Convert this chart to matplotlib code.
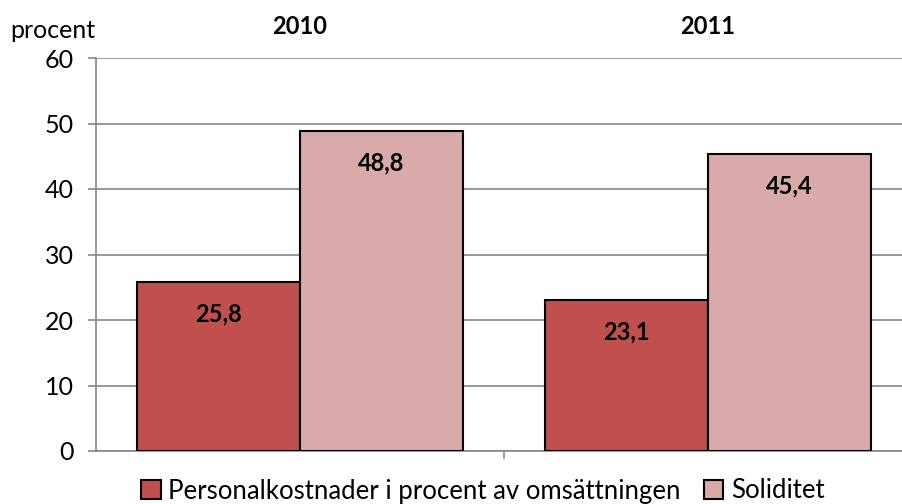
import matplotlib.pyplot as plt
import numpy as np

years = ["2010", "2011"]
personal = [25.8, 23.1]
soliditet = [48.8, 45.4]
series_names = ["Personalkostnader i procent av omsättningen", "Soliditet"]
colors = ["#C0504D", "#D9AAAA"]
yticks = [0, 10, 20, 30, 40, 50, 60]

plt.rcParams["font.family"] = ["Lato", "DejaVu Sans"]

W, H = 902, 504
fig = plt.figure(figsize=(W / 100, H / 100), dpi=100)
ax = fig.add_axes([96 / W, 1 - 451 / H, (912 - 96) / W, (451 - 58) / H])

x = np.arange(len(years))
bw = 0.4
b1 = ax.bar(x - bw / 2, personal, bw, color=colors[0], edgecolor="black", linewidth=1.5,
            label=series_names[0], zorder=3)
b2 = ax.bar(x + bw / 2, soliditet, bw, color=colors[1], edgecolor="black", linewidth=1.5,
            label=series_names[1], zorder=3)

for bars, vals in ((b1, personal), (b2, soliditet)):
    for b, v in zip(bars, vals):
        ax.annotate(f"{v:.1f}".replace(".", ","), (b.get_x() + b.get_width() / 2, v),
                    xytext=(0, -23), textcoords="offset points", ha="center", va="center",
                    fontsize=17, fontweight="bold", zorder=4)

ax.set_xlim(-0.5, 1.5)
ax.set_ylim(0, 60)
ax.set_yticks(yticks)
ax.yaxis.grid(True, color="#868686", linewidth=1.2, zorder=0)
ax.set_xticks([0.5])
ax.set_xticklabels([])
ax.tick_params(axis="x", length=6, color="#868686", width=1.2, direction="out")
ax.tick_params(axis="y", length=6, color="#868686", width=1.2, labelsize=18, pad=10)
for s in ["top", "right"]:
    ax.spines[s].set_visible(False)
for s in ["left", "bottom"]:
    ax.spines[s].set_color("#868686")
    ax.spines[s].set_linewidth(1.2)

for xi, yr in zip(x, years):
    ax.text(xi, 1.08, yr, transform=ax.get_xaxis_transform(), ha="center", va="center",
            fontsize=17, fontweight="bold")
fig.text(10 / W, 1 - 30 / H, "procent", ha="left", va="center", fontsize=18)

fig.legend(handles=[b1, b2], loc="center", bbox_to_anchor=(483 / W, 1 - 491 / H), ncol=2,
           frameon=False, fontsize=18.5, handlelength=0.75, handleheight=0.75,
           handletextpad=0.3, columnspacing=0.9, borderpad=0)

fig.savefig("out.png", dpi=100)
